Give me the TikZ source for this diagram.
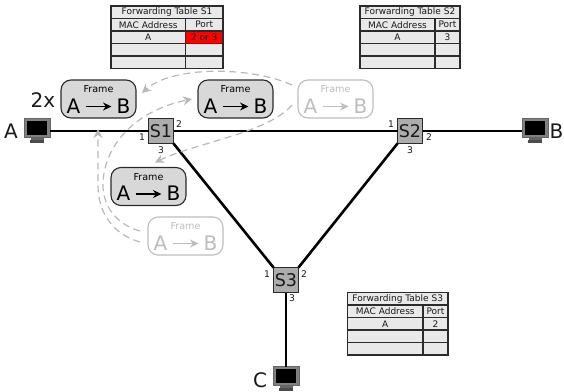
\documentclass[tikz,border=0pt]{standalone}
\usepackage{fontspec}
\setmainfont{DejaVu Sans}
\usetikzlibrary{arrows.meta,calc}
\definecolor{cellgray}{HTML}{E9E9E9}
\definecolor{framegray}{HTML}{D8D8D8}
\definecolor{swgray}{HTML}{ADADAD}
\definecolor{ghost}{HTML}{BDBDBD}
\definecolor{dashgray}{HTML}{B8B8B8}
\definecolor{outl}{HTML}{2B2B2B}
\tikzset{
  x=1pt,y=-1pt,
  every node/.style={inner sep=0pt,outer sep=0pt,text=black!90},
  link/.style={line width=2.6pt,black},
  switchbox/.style={draw=outl,line width=1.1pt,fill=swgray,minimum size=25pt,font=\fontsize{17.5}{18}\selectfont},
  portlabel/.style={font=\fontsize{9.2}{10}\selectfont},
  hostlabel/.style={font=\fontsize{20}{21}\selectfont},
  cell/.style={draw=outl,line width=1.15pt,fill=cellgray,font=\fontsize{9}{10}\selectfont,anchor=north west,inner sep=0pt,align=center},
  framebody/.style={rounded corners=10pt,line width=1.1pt,minimum width=75pt,minimum height=38pt},
  solidframe/.style={framebody,draw=outl,fill=framegray},
  ghostframe/.style={framebody,draw=ghost,fill=white},
  flowline/.style={draw=dashgray,line width=1.2pt,dash pattern=on 7pt off 4.5pt},
  flowtip/.style={-{Stealth[length=9pt,width=9pt]}},
  hostbox/.style={minimum width=26pt,minimum height=19pt}
}
% frame: name, cx, cy, style, text colour
\newcommand{\msgframe}[5]{%
  \node[#4] (#1) at (#2,#3) {};
  \node[font=\fontsize{9.6}{11}\selectfont,text=#5] (#1t) at (#2,#3-9.5) {Frame};
  \node[font=\fontsize{20}{21}\selectfont,text=#5] (#1a) at (#2-25,#3+7) {A};
  \node[font=\fontsize{20}{21}\selectfont,text=#5] (#1b) at (#2+25,#3+7) {B};
  \draw[#5,line width=1.2pt,-{Stealth[length=8.5pt,width=8pt]}] ($(#1a.center)+(12,0.5)$) -- ($(#1b.center)+(-12,0.5)$);
}
% table: name, x, y, col1 width, col2 width, mac, port, port fill
\newcommand{\fwtable}[8]{%
  \node[cell,minimum width=#4pt+#5pt,minimum height=12.5pt] (#1title) at (#2,#3) {Forwarding Table #1};
  \node[cell,minimum width=#4pt,minimum height=12.5pt] (#1h1) at (#2,#3+12.5) {MAC Address};
  \node[cell,minimum width=#5pt,minimum height=12.5pt] (#1h2) at (#2+#4,#3+12.5) {Port};
  \node[cell,minimum width=#4pt,minimum height=12.5pt] (#1a1) at (#2,#3+25) {#6};
  \node[cell,minimum width=#5pt,minimum height=12.5pt,fill=#8] (#1a2) at (#2+#4,#3+25) {#7};
  \node[cell,minimum width=#4pt,minimum height=12.5pt] (#1b1) at (#2,#3+37.5) {};
  \node[cell,minimum width=#5pt,minimum height=12.5pt] (#1b2) at (#2+#4,#3+37.5) {};
  \node[cell,minimum width=#4pt,minimum height=12.5pt] (#1c1) at (#2,#3+50) {};
  \node[cell,minimum width=#5pt,minimum height=12.5pt] (#1c2) at (#2+#4,#3+50) {};
}
% computer: name, cx, cy
\newcommand{\computer}[3]{%
  \fill[black!60] (#2-6,#3+7) rectangle (#2+7,#3+9);
  \fill[black!70] (#2-7,#3+9) rectangle (#2+7,#3+12);
  \node[hostbox,fill=black!50,draw=black!60,line width=.8pt] (#1) at (#2,#3-3) {};
  \fill[black] ($(#1.center)+(-10,-7)$) rectangle ($(#1.center)+(10,7)$);
}
\begin{document}
\begin{tikzpicture}
\useasboundingbox (0,0) rectangle (564,391);
% hosts
\computer{hA}{37}{131}
\computer{hB}{535}{131}
\computer{hC}{286}{379}
% switches
\node[switchbox] (S1) at (161,131) {S1};
\node[switchbox] (S2) at (410,131) {S2};
\node[switchbox] (S3) at (286,280) {S3};
% links
\draw[link] (hA.east |- S1.west) -- (S1.west);
\draw[link] (S1.east) -- (S2.west);
\draw[link] (S2.east) -- (hB.west |- S2.east);
\draw[link] (S1.south east) -- (S3.north west);
\draw[link] (S2.south west) -- (S3.north east);
\draw[link] (S3.south) -- (hC.north);
% host labels
\node[hostlabel] (lA) at (11,131) {A};
\node[hostlabel] (lB) at (556.5,131) {B};
\node[hostlabel] (lC) at (260,380) {C};
\node[hostlabel] (ltwo) at (43,100) {2x};
% port labels
\node[portlabel] (pa) at (142,137) {1};
\node[portlabel] (pb) at (179,124) {2};
\node[portlabel] (pc) at (161,150) {3};
\node[portlabel] (pd) at (391,124) {1};
\node[portlabel] (pe) at (429,137) {2};
\node[portlabel] (pf) at (410,150) {3};
\node[portlabel] (pg) at (267,274) {1};
\node[portlabel] (ph) at (304,274) {2};
\node[portlabel] (pi) at (292,298) {3};
% tables
\fwtable{S1}{111}{6}{74.5}{37.5}{A}{2 or 3}{red}
\fwtable{S2}{360}{6}{75}{25}{A}{3}{cellgray}
\fwtable{S3}{347.5}{292.5}{75.5}{25}{A}{2}{cellgray}
% frames
\msgframe{frameL}{98.5}{99}{solidframe}{black}
\msgframe{frameM}{235.5}{99}{solidframe}{black}
\msgframe{frameG}{335.5}{99}{ghostframe}{ghost}
\msgframe{frameD}{148.5}{186.5}{solidframe}{black}
\msgframe{frameH}{185.5}{236}{ghostframe}{ghost}
% flows
\coordinate (aS) at ($(frameG.west)+(-6,-14)$);
\coordinate (aE) at ($(frameL.east)+(6,-6)$);
\coordinate (bS) at ($(frameG.west)+(-6,6)$);
\coordinate (bE) at ($(frameD.north)+(6.5,-5)$);
\coordinate (cS) at ($(frameH.west)+(-8,6)$);
\coordinate (cE) at (98,129);
\coordinate (dS) at ($(frameH.west)+(-8,-5)$);
\coordinate (dE) at ($(frameM.west)+(-6,0)$);
\draw[flowline,flowtip] (aS) .. controls (250,66) and (172,66) .. (aE);
\draw[flowline,flowtip] (bS) .. controls (268,133) and (195,143) .. (bE);
\draw[flowline,flowtip] (cS) .. controls (115,235) and (98,215) .. (98,185) -- (cE);
\draw[flowline,flowtip] (dS) .. controls (115,224) and (103,205) .. (103,185) .. controls (103,150) and (130,112) .. (dE);
\end{tikzpicture}
\end{document}
